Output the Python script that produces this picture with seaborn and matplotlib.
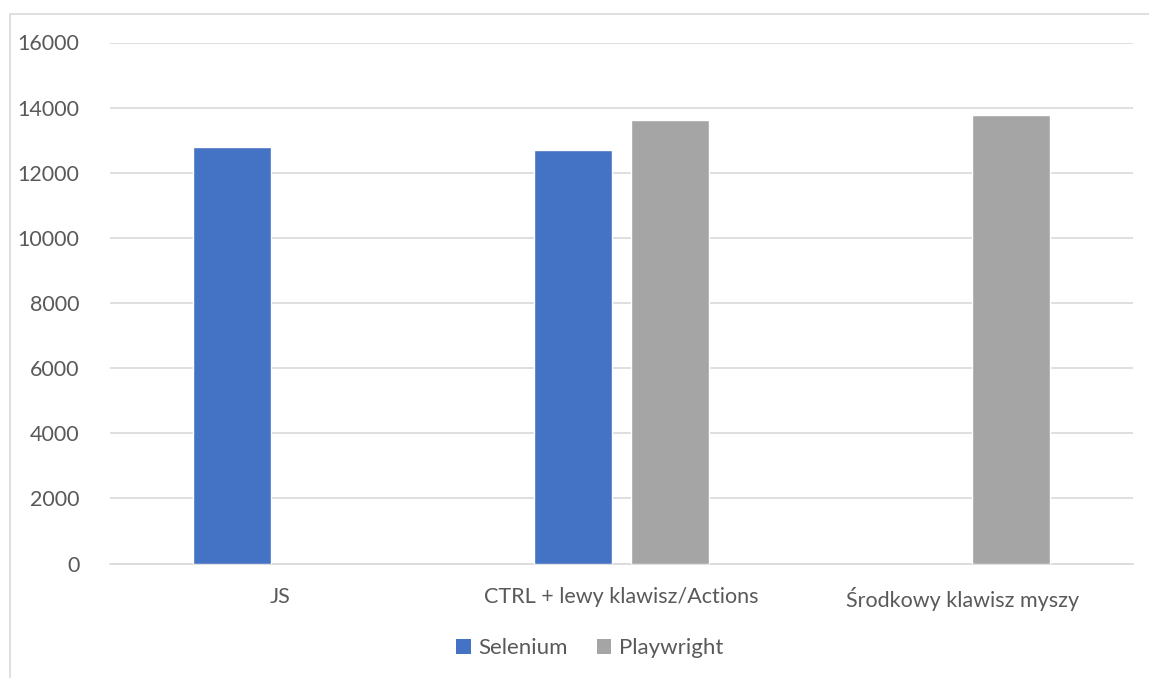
import matplotlib
matplotlib.use("Agg")
import matplotlib.pyplot as plt
import seaborn as sns
import pandas as pd
from matplotlib.patches import Patch
from matplotlib.lines import Line2D

categories = ["JS", "JS", "CTRL + lewy klawisz/Actions", "CTRL + lewy klawisz/Actions",
              "Środkowy klawisz myszy", "Środkowy klawisz myszy"]
tools = ["Selenium", "Playwright", "Selenium", "Playwright", "Selenium", "Playwright"]
values = [12780, None, 12710, 13635, None, 13760]
cat_order = ["JS", "CTRL + lewy klawisz/Actions", "Środkowy klawisz myszy"]
hue_order = ["Selenium", "Playwright"]
colors = ["#4472C4", "#A5A5A5"]
yticks = [0, 2000, 4000, 6000, 8000, 10000, 12000, 14000, 16000]

df = pd.DataFrame({"kategoria": categories, "narzedzie": tools, "czas": values}).dropna()

sns.set_theme(style="white")
plt.rcParams['font.family'] = ['Lato', 'DejaVu Sans']
txt = "#595959"

W, H = 1149, 678
fig = plt.figure(figsize=(W / 100, H / 100), dpi=100)
ax = fig.add_axes([110 / W, (H - 563.5) / H, (1133 - 110) / W, (563.5 - 42.5) / H])

sns.barplot(data=df, x="kategoria", y="czas", hue="narzedzie", order=cat_order,
            hue_order=hue_order, palette=colors, width=0.569, gap=0.206,
            saturation=1, ax=ax, legend=False, errorbar=None, zorder=3)

ax.set_ylim(0, 16000)
ax.set_xlim(-0.5, 2.5)
ax.set_yticks(yticks)
ax.set_yticklabels([str(v) for v in yticks])
ax.yaxis.grid(True, color="#d9d9d9", linewidth=1.2, zorder=0)
ax.set_axisbelow(True)
for s in ["left", "right", "top"]:
    ax.spines[s].set_visible(False)
ax.spines["bottom"].set_color("#d9d9d9")
ax.spines["bottom"].set_linewidth(1.2)
ax.set_xlabel("")
ax.set_ylabel("")
ax.tick_params(axis="both", length=0, colors=txt, labelsize=15.5)
ax.tick_params(axis="y", pad=22)
ax.tick_params(axis="x", pad=17)

# chart frame (left and top edges visible)
fig.add_artist(Line2D([10 / W, 10 / W], [0, (H - 14) / H], color="#d9d9d9", linewidth=1.2,
                      transform=fig.transFigure))
fig.add_artist(Line2D([10 / W, 1], [(H - 14) / H, (H - 14) / H], color="#d9d9d9", linewidth=1.2,
                      transform=fig.transFigure))

handles = [Patch(facecolor=c, edgecolor="none") for c in colors]
leg = fig.legend(handles, hue_order, loc="center", bbox_to_anchor=(590 / W, (H - 648) / H),
                 ncol=2, frameon=False, fontsize=16, handlelength=0.65, handleheight=0.65,
                 handletextpad=0.35, columnspacing=1.3)
for t in leg.get_texts():
    t.set_color(txt)

fig.savefig("out.png", dpi=100)
